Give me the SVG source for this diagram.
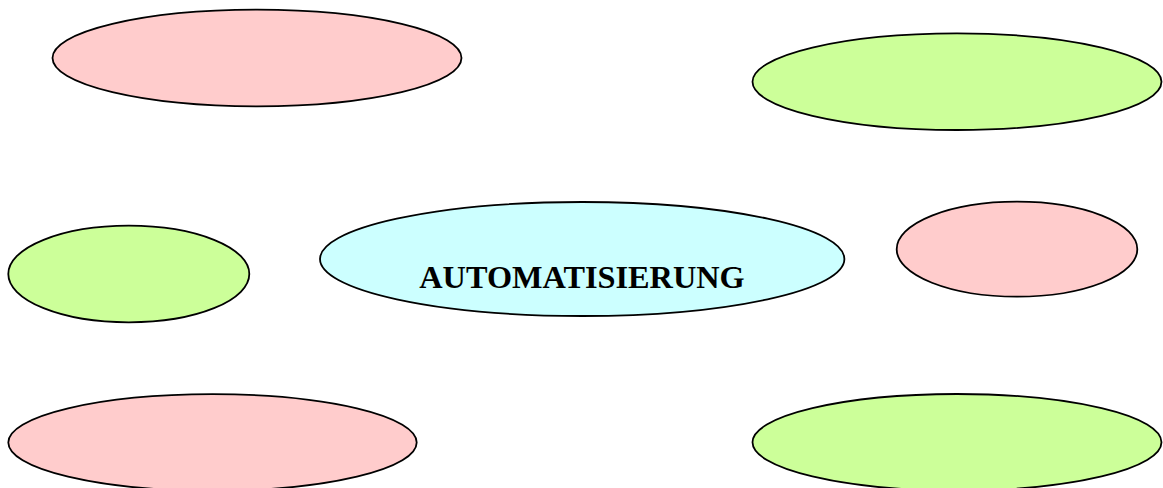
<svg xmlns="http://www.w3.org/2000/svg" width="1163" height="488" viewBox="0 0 1163 488">
  <style>
    .node { stroke: #000; stroke-width: 1.8; }
    .pink { fill: #FFCCCC; }
    .green { fill: #CCFF99; }
    .cyan { fill: #CCFFFF; }
    .label { font-family: "Liberation Serif", "Times New Roman", serif; font-weight: bold; font-size: 32.3px; fill: #000; text-anchor: middle; }
  </style>
  <rect width="1163" height="488" fill="#fff"/>
  <g id="connectors"></g>
  <g id="node-top-left"><ellipse class="node pink" cx="257" cy="58" rx="204.5" ry="48.3"/></g>
  <g id="node-top-right"><ellipse class="node green" cx="957" cy="81.7" rx="204.5" ry="48.3"/></g>
  <g id="node-mid-left"><ellipse class="node green" cx="128.8" cy="274" rx="120.5" ry="48.3"/></g>
  <g id="node-center">
    <ellipse class="node cyan" cx="582.2" cy="259" rx="262.2" ry="57"/>
    <text class="label" x="582" y="288.3">AUTOMATISIERUNG</text>
  </g>
  <g id="node-mid-right"><ellipse class="node pink" cx="1017" cy="249.2" rx="120.3" ry="47.5"/></g>
  <g id="node-bottom-left"><ellipse class="node pink" cx="212.5" cy="442.5" rx="204.2" ry="48.3"/></g>
  <g id="node-bottom-right"><ellipse class="node green" cx="957" cy="442.3" rx="204.5" ry="48.3"/></g>
</svg>
